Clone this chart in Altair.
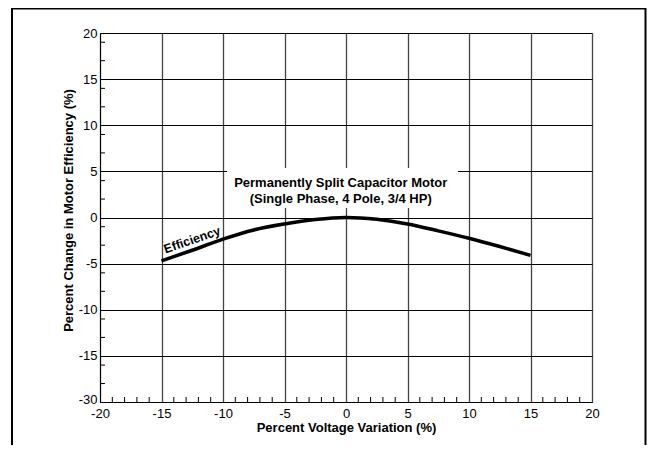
import altair as alt
import pandas as pd

# Curve data
voltage = [-15, -12.5, -10, -7.5, -5, -2.5, 0, 2.5, 5, 7.5, 10, 12.5, 15]
efficiency = [-4.7, -3.55, -2.35, -1.35, -0.7, -0.22, 0, -0.2, -0.7, -1.45, -2.25, -3.15, -4.1]

# Axis ticks
x_major = [-20, -15, -10, -5, 0, 5, 10, 15, 20]
y_major = [-20, -15, -10, -5, 0, 5, 10, 15, 20]
x_minor = [v for v in range(-19, 20) if v % 5 != 0]
y_minor = [19, 17, 14, 12, 9, 7, 4, 2, -1, -3, -6, -8, -11, -13, -16, -18]

# Annotations
note_lines = ["Permanently Split Capacitor Motor", "(Single Phase, 4 Pole, 3/4 HP)"]
note_x = [-0.43, -0.43]
note_y = [3.34, 1.6]
note_box = {"x": [-9.67], "x2": [9.1], "y": [1.03], "y2": [5.37]}
curve_label = ["Efficiency"]
curve_label_x = [-12.4]
curve_label_y = [-2.85]

FONT = "Liberation Sans"
W, H = 492, 369

xs = alt.Scale(domain=[-20, 20], nice=False, zero=False)
ys = alt.Scale(domain=[-20, 20], nice=False, zero=False)

x_axis = alt.Axis(values=x_major, grid=True, gridColor="#444", gridWidth=1.3,
                  tickSize=0, labelPadding=5, labelFontSize=13, labelFont=FONT,
                  labelColor="black", domainColor="black", domainWidth=1,
                  labelExpr="'' + datum.value",
                  title="Percent Voltage Variation (%)", titleFont=FONT,
                  titleFontSize=13, titleFontWeight="bold", titlePadding=1,
                  titleColor="black", labelFlush=False)
y_axis = alt.Axis(values=y_major, grid=True, gridColor="black", gridWidth=1,
                  tickSize=0, labelPadding=3, labelFontSize=13, labelFont=FONT,
                  labelColor="black", domainColor="black", domainWidth=1,
                  labelExpr="datum.value == -20 ? '-30' : '' + datum.value",
                  labelOffset={"condition": {"test": "datum.value == -20", "value": -3}, "value": 0},
                  title="Percent Change in Motor Efficiency (%)", titleFont=FONT,
                  titleFontSize=13, titleFontWeight="bold", titleColor="black",
                  titleX=-31.5, titleY=177, titleAngle=270, titleAlign="center",
                  titleBaseline="middle", labelFlush=False)

curve_df = pd.DataFrame({"v": voltage, "e": efficiency})

base = alt.Chart(curve_df).mark_line(color="black", strokeWidth=3.5,
                                     interpolate="monotone").encode(
    x=alt.X("v:Q", scale=xs, axis=x_axis),
    y=alt.Y("e:Q", scale=ys, axis=y_axis),
)

box = alt.Chart(pd.DataFrame(note_box)).mark_rect(color="white").encode(
    x=alt.X("x:Q", scale=xs), x2="x2:Q",
    y=alt.Y("y:Q", scale=ys), y2="y2:Q",
)

xminor = alt.Chart(pd.DataFrame({"v": x_minor})).mark_rule(color="black", strokeWidth=1).encode(
    x=alt.X("v:Q", scale=xs), y=alt.value(H), y2=alt.value(H - 5)
)
yminor = alt.Chart(pd.DataFrame({"v": y_minor})).mark_rule(color="black", strokeWidth=1).encode(
    y=alt.Y("v:Q", scale=ys), x=alt.value(0), x2=alt.value(5)
)

note = alt.Chart(pd.DataFrame({"t": note_lines, "x": note_x, "y": note_y})).mark_text(
    font=FONT, fontSize=13, fontWeight="bold", color="black", align="center",
    baseline="alphabetic").encode(
    x=alt.X("x:Q", scale=xs), y=alt.Y("y:Q", scale=ys), text="t:N")

clabel = alt.Chart(pd.DataFrame({"t": curve_label, "x": curve_label_x, "y": curve_label_y})).mark_text(
    font=FONT, fontSize=12.5, fontWeight="bold", color="black", align="center",
    baseline="alphabetic", angle=341).encode(
    x=alt.X("x:Q", scale=xs), y=alt.Y("y:Q", scale=ys), text="t:N")

frame = alt.Chart(pd.DataFrame({"a": [0]})).mark_rect(
    fill="white", fillOpacity=0, stroke="black", strokeWidth=2).encode(
    x=alt.value(-88), x2=alt.value(545.5), y=alt.value(-24.5), y2=alt.value(440))

chart = alt.layer(box, xminor, yminor, base, note, clabel, frame).properties(
    width=W, height=H,
    autosize=alt.AutoSizeParams(type="none"),
    padding={"left": 92, "top": 25, "right": 55, "bottom": 43},
).configure_view(stroke="black", strokeWidth=1).configure(background="white")

chart.save("out.html", embed_options={"renderer": "svg", "actions": False})
